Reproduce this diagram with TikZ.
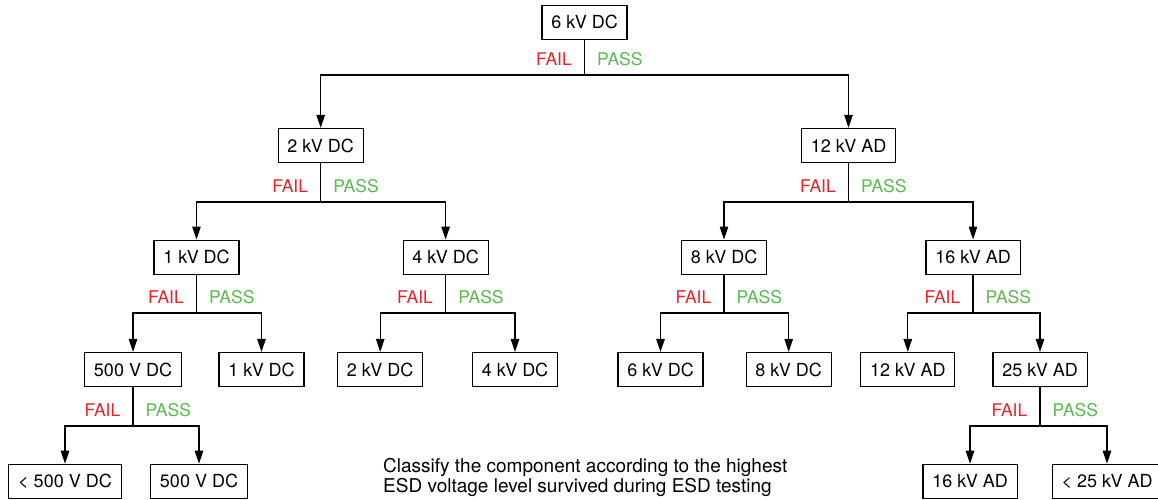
\documentclass[tikz,border=0pt]{standalone}
\usepackage{fontspec}
\setmainfont{TeX Gyre Heros}
\usetikzlibrary{arrows.meta}
\definecolor{failred}{RGB}{237,32,40}
\definecolor{passgreen}{RGB}{92,184,80}
\newcommand\splitnode[4]{%
  \coordinate (#1j) at (#1.south |- 0,#4);
  \draw[conn] (#1) -- (#1j);
  \draw[arr] (#1j) -| (#2);
  \draw[arr] (#1j) -| (#3);
  \path (#1j) ++(-12.5,-16) node[fail] (#1f) {FAIL} ++(25,0) node[pass] (#1p) {PASS};
}
\begin{document}
\begin{tikzpicture}[x=1pt,y=-1pt,
  box/.style={draw,line width=1.1pt,minimum height=34.3pt,inner xsep=9.3pt,inner ysep=0pt,font=\fontsize{18}{21}\selectfont},
  conn/.style={line width=1.1pt},
  arr/.style={conn,-{Triangle[length=13pt,width=8.5pt]}},
  fail/.style={text=failred,font=\fontsize{17.5}{21}\selectfont,inner sep=0pt,anchor=east},
  pass/.style={text=passgreen,font=\fontsize{17.5}{21}\selectfont,inner sep=0pt,anchor=west},
  note/.style={font=\fontsize{19}{21}\selectfont,inner sep=0pt,anchor=base west}]
\useasboundingbox (0,0) rectangle (1158,500);
\clip (0,0) rectangle (1158,500);
% level 0
\node[box] (n0) at (584.5,22.3) {6 kV DC};
% level 1
\node[box] (a) at (320.7,145.5) {2 kV DC};
\node[box] (b) at (848.5,145.5) {12 kV AD};
% level 2
\node[box] (aa) at (196.5,257.2) {1 kV DC};
\node[box] (ab) at (445.6,257.2) {4 kV DC};
\node[box] (ba) at (724,257.2) {8 kV DC};
\node[box] (bb) at (973,257.2) {16 kV AD};
% level 3
\node[box] (aaa) at (133,369.6) {500 V DC};
\node[box] (aab) at (261.5,369.6) {1 kV DC};
\node[box] (aba) at (380.2,369.6) {2 kV DC};
\node[box] (abb) at (515,369.6) {4 kV DC};
\node[box] (baa) at (660.5,369.6) {6 kV DC};
\node[box] (bab) at (788.7,369.6) {8 kV DC};
\node[box] (bba) at (907.8,369.6) {12 kV AD};
\node[box] (bbb) at (1040,369.6) {25 kV AD};
% level 4
\node[box] (aaaa) at (65,481.4) {< 500 V DC};
\node[box] (aaab) at (199,481.4) {500 V DC};
\node[box] (bbba) at (970,481.4) {16 kV AD};
\node[box] (bbbb) at (1107,481.4) {< 25 kV AD};
% branches
\splitnode{n0}{a}{b}{75}
\splitnode{a}{aa}{ab}{202}
\splitnode{b}{ba}{bb}{202}
\splitnode{aa}{aaa}{aab}{313}
\splitnode{ab}{aba}{abb}{313}
\splitnode{ba}{baa}{bab}{313}
\splitnode{bb}{bba}{bbb}{313}
\splitnode{aaa}{aaaa}{aaab}{426}
\splitnode{bbb}{bbba}{bbbb}{426}
% note
\node[note] (note1) at (383,472) {Classify the component according to the highest};
\node[note] (note2) at (383,492) {ESD voltage level survived during ESD testing};
\end{tikzpicture}
\end{document}
